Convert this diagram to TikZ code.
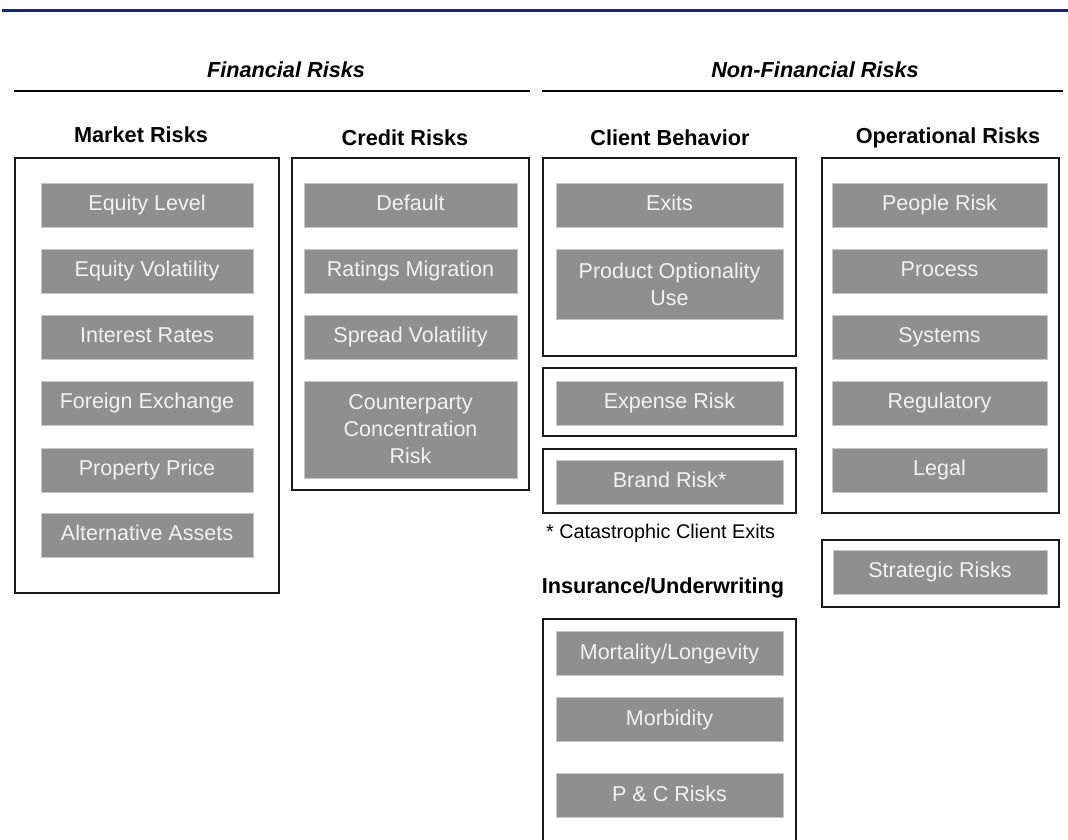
\documentclass[tikz,border=0pt]{standalone}
\usepackage{fontspec}
\setmainfont{Liberation Sans}
\usepackage{xcolor}
\definecolor{rulebl}{RGB}{18,34,155}
\definecolor{boxgr}{RGB}{143,143,143}
\tikzset{
  grp/.style={font=\fontsize{21.7}{24}\selectfont\bfseries\itshape},
  hd/.style={font=\fontsize{21.7}{24}\selectfont\bfseries},
  frm/.style={draw=black!90,line width=1.4pt},
  rk/.style={fill=boxgr,draw=black!22,line width=0.6pt,text=white!95!black,align=center,
    inner sep=0pt,minimum width=#1,minimum height=44pt,text height=15.5pt,text depth=4.5pt,
    font=\fontsize{21.5}{27}\selectfont},
  rk/.default=212pt,
  multi/.style={text height={},text depth={}},
  note/.style={font=\fontsize{19.8}{22}\selectfont,anchor=west,inner sep=0pt}
}

\begin{document}
\begin{tikzpicture}[x=1pt,y=-1pt]
\path[use as bounding box,fill=white] (0,0) rectangle (1068,839);
\draw[rulebl,line width=3pt] (2,10) -- (1068,10);

\node[grp] (fin) at (286,70) {Financial Risks}; \draw[line width=1.4pt] (14,91) -- (530,91);
\node[grp] (nfin) at (815,70) {Non-Financial Risks}; \draw[line width=1.4pt] (542,91) -- (1063,91);

\node[hd] (mkt) at (141,135) {Market Risks};
\node[hd] (crd) at (405,138) {Credit Risks};
\node[hd] (cb) at (670,138) {Client Behavior};
\node[hd] (ops) at (948,138) {Operational Risks};

\draw[frm] (15,158) rectangle (279,593);
\node[rk] (mkt1) at (147,205) {Equity Level};
\node[rk] (mkt2) at (147,271) {Equity Volatility};
\node[rk] (mkt3) at (147,337) {Interest Rates};
\node[rk] (mkt4) at (147,403) {Foreign Exchange};
\node[rk] (mkt5) at (147,470) {Property Price};
\node[rk] (mkt6) at (147,535) {Alternative Assets};

\draw[frm] (292,158) rectangle (529,490);
\node[rk=213pt] (crd1) at (410.5,205) {Default};
\node[rk=213pt] (crd2) at (410.5,271) {Ratings Migration};
\node[rk=213pt] (crd3) at (410.5,337) {Spread Volatility};
\node[rk=213pt,multi,minimum height=97pt] (crd4) at (410.5,429.5) {Counterparty\\Concentration\\Risk};

\draw[frm] (543,158) rectangle (796,356);
\node[rk=227pt] (cb1) at (669.5,205) {Exits};
\node[rk=227pt,multi,minimum height=70pt] (cb2) at (669.5,284) {Product Optionality\\Use};
\draw[frm] (543,368) rectangle (796,436);
\node[rk=227pt] (exp) at (669.5,403) {Expense Risk};
\draw[frm] (543,449) rectangle (796,513);
\node[rk=227pt] (brand) at (669.5,482) {Brand Risk*};
\node[note] (fn) at (546,533) {* Catastrophic Client Exits};

\node[hd] (ins) at (663,588) {Insurance/Underwriting};
\draw[frm] (543,845) -- (543,619) -- (796,619) -- (796,845);
\node[rk=227pt] (ins1) at (669.5,653.5) {Mortality/Longevity};
\node[rk=227pt] (ins2) at (669.5,719.5) {Morbidity};
\node[rk=227pt] (ins3) at (669.5,795.5) {P \& C Risks};

\draw[frm] (822,158) rectangle (1059,513);
\node[rk=215pt] (ops1) at (939.5,205) {People Risk};
\node[rk=215pt] (ops2) at (939.5,271) {Process};
\node[rk=215pt] (ops3) at (939.5,337) {Systems};
\node[rk=215pt] (ops4) at (939.5,403) {Regulatory};
\node[rk=215pt] (ops5) at (939.5,470) {Legal};
\draw[frm] (822,540) rectangle (1059,607);
\node[rk=214pt] (strat) at (940,572) {Strategic Risks};
\end{tikzpicture}
\end{document}
